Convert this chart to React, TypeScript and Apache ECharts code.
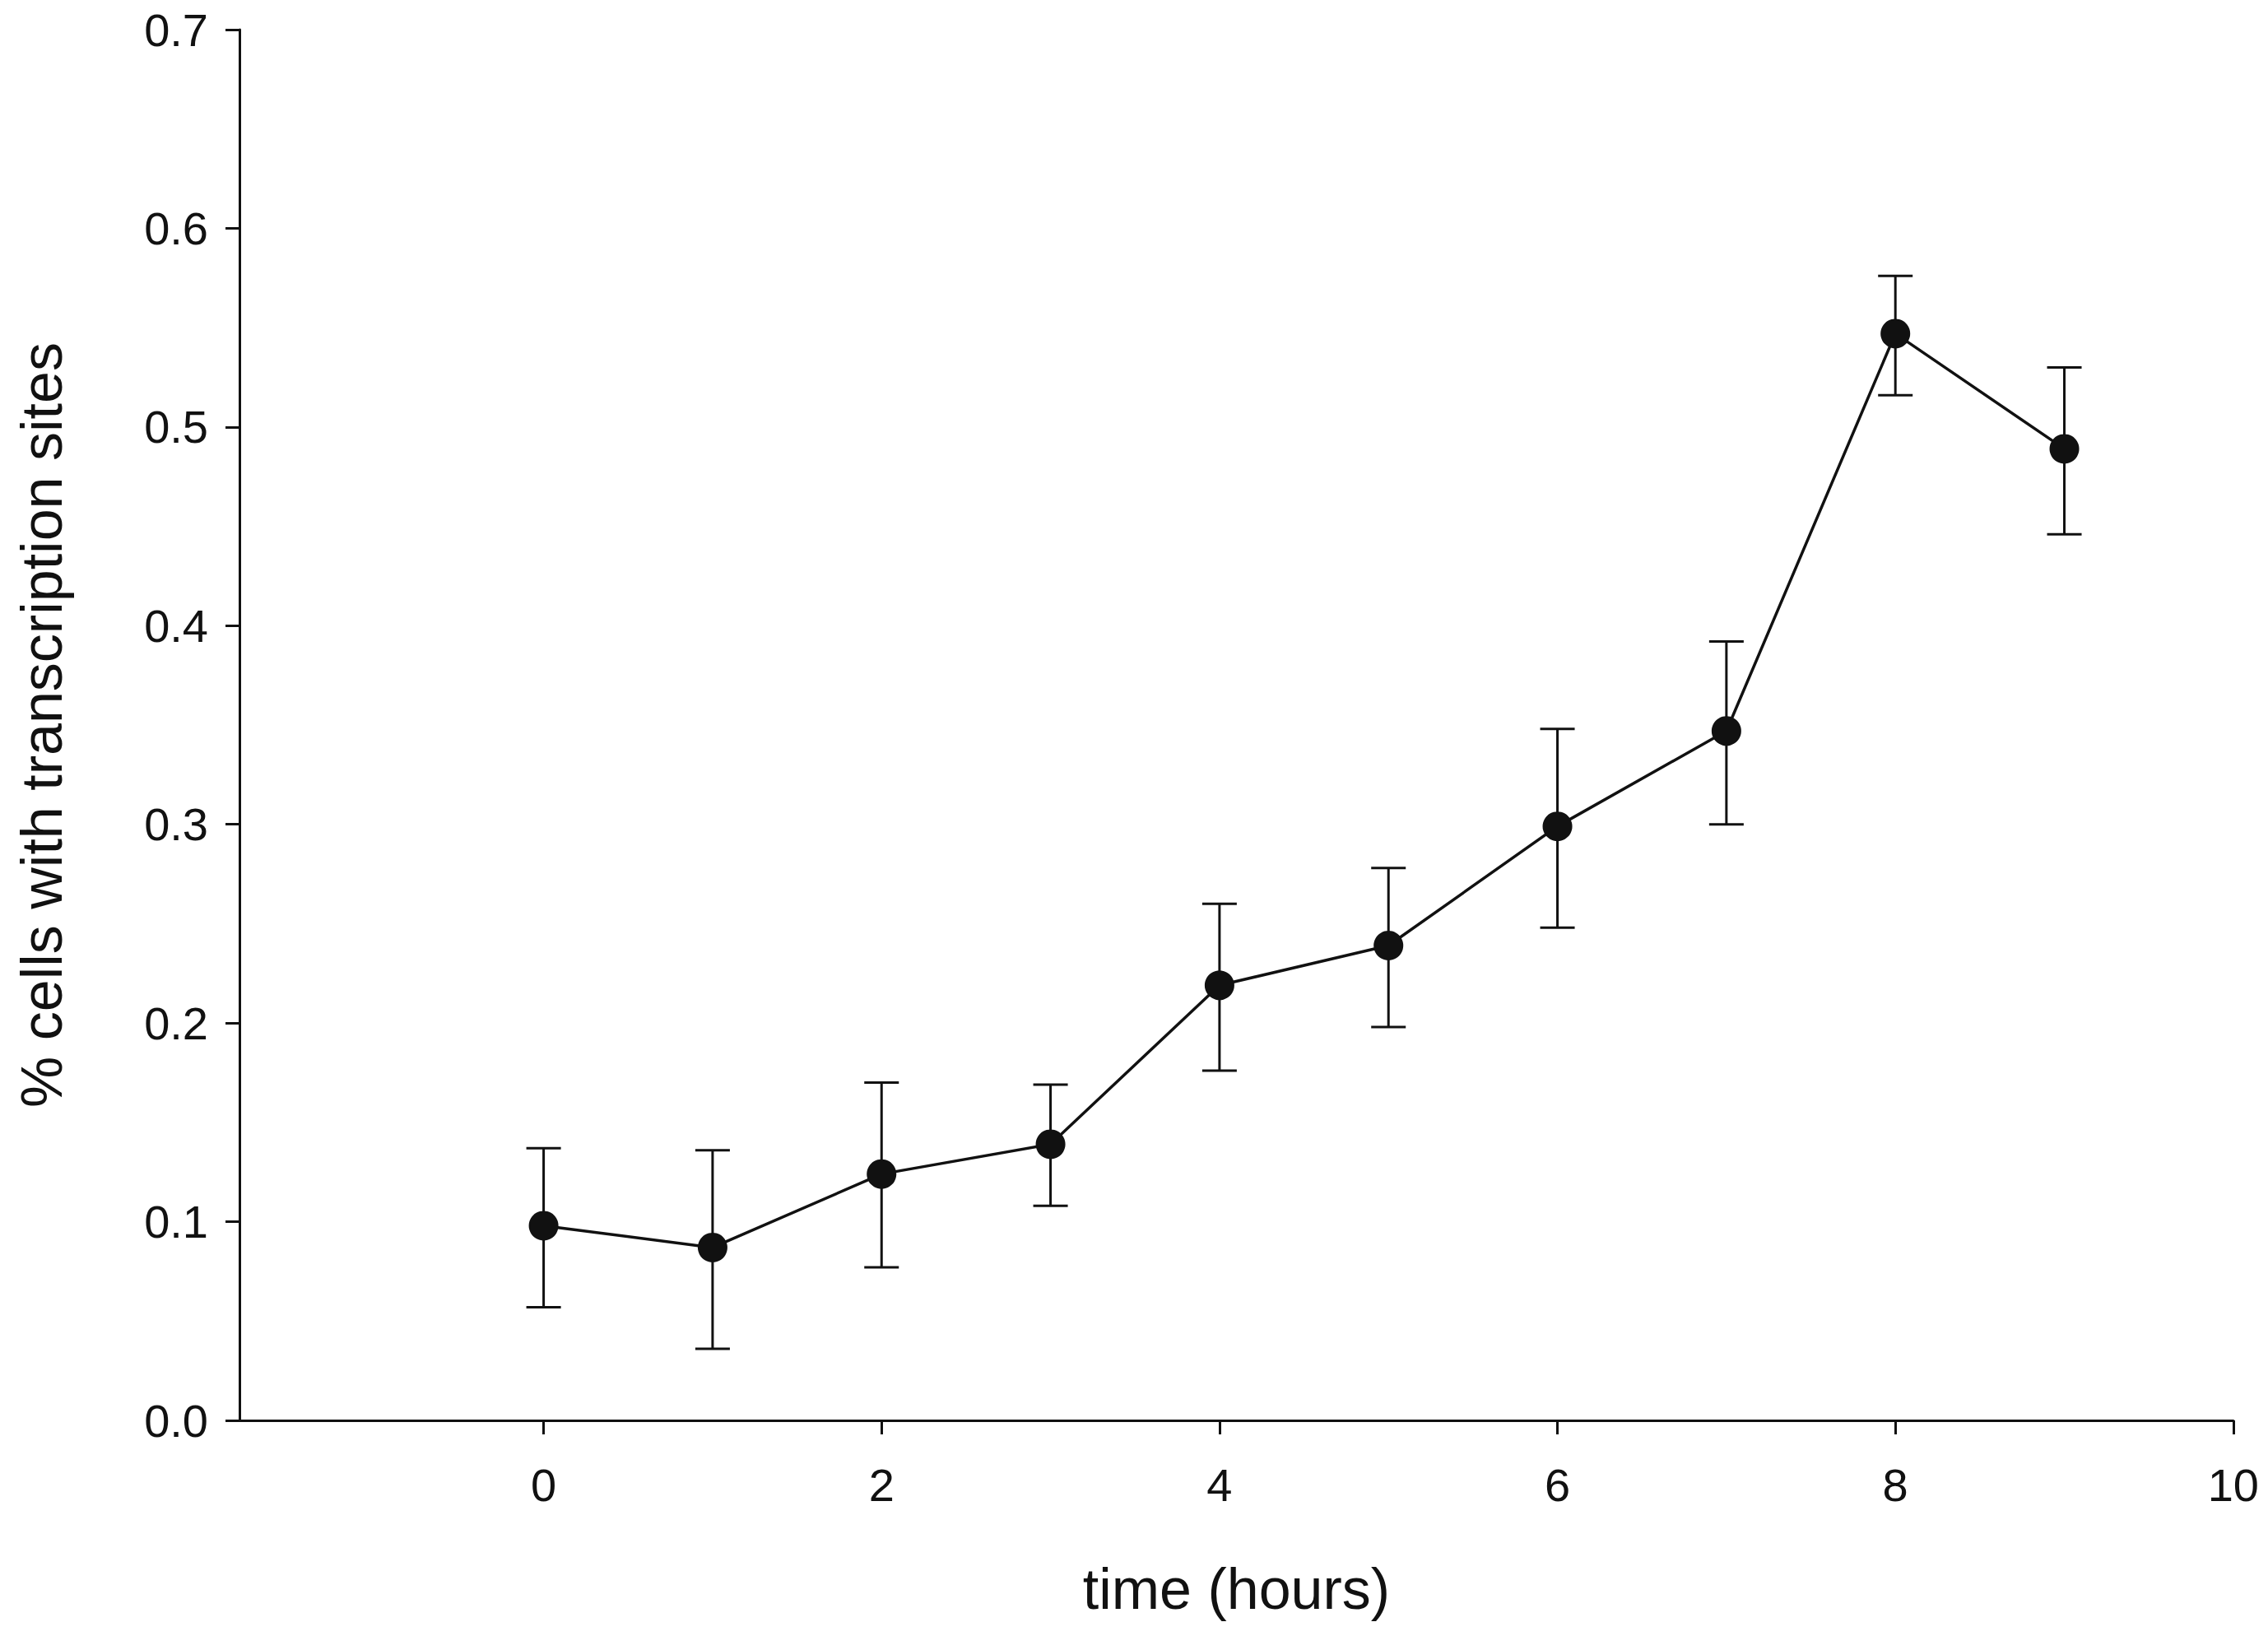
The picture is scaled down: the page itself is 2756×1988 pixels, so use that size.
import React, { useEffect, useRef } from 'react';
import * as echarts from 'echarts';

const hours = [0, 1, 2, 3, 4, 5, 6, 7, 8, 9];
const means = [0.098, 0.087, 0.124, 0.139, 0.219, 0.239, 0.299, 0.347, 0.547, 0.489];
const lows = [0.057, 0.036, 0.077, 0.108, 0.176, 0.198, 0.248, 0.300, 0.516, 0.446];
const highs = [0.137, 0.136, 0.170, 0.169, 0.260, 0.278, 0.348, 0.392, 0.576, 0.530];
const xTicks = [0, 2, 4, 6, 8, 10];

const font = 'Liberation Sans, Arial, sans-serif';

const App: React.FC = () => {
  const chartRef = useRef<HTMLDivElement>(null);

  useEffect(() => {
    if (!chartRef.current) return;
    const chart = echarts.init(chartRef.current, undefined, { renderer: 'svg' });

    const option = {
      animation: false,
      grid: { left: 279, right: 30, top: 22, bottom: 254, containLabel: false },
      xAxis: {
        type: 'value',
        min: -1.8,
        max: 10,
        name: 'time (hours)',
        nameLocation: 'middle',
        nameGap: 170,
        nameTextStyle: { fontSize: 70, color: '#111', fontFamily: font },
        splitLine: { show: false },
        axisLine: { onZero: false, lineStyle: { color: '#111', width: 3 } },
        axisTick: { customValues: xTicks, length: 17, lineStyle: { color: '#111', width: 3 } },
        axisLabel: { customValues: xTicks, fontSize: 56, color: '#111', fontFamily: font, margin: 50 },
      },
      yAxis: {
        type: 'value',
        min: 0,
        max: 0.7,
        interval: 0.1,
        name: '% cells with transcription sites',
        nameLocation: 'middle',
        nameGap: 205,
        nameTextStyle: { fontSize: 70, color: '#111', fontFamily: font },
        splitLine: { show: false },
        axisLine: { show: true, onZero: false, lineStyle: { color: '#111', width: 3 } },
        axisTick: { show: true, length: 17, lineStyle: { color: '#111', width: 3 } },
        axisLabel: {
          fontSize: 56,
          color: '#111',
          fontFamily: font,
          margin: 38,
          formatter: (v: number) => v.toFixed(1),
        },
      },
      series: [
        {
          type: 'custom',
          data: hours.map((h, i) => [h, lows[i], highs[i]]),
          renderItem: (_params: any, api: any) => {
            const x = api.value(0);
            const lo = api.coord([x, api.value(1)]);
            const hi = api.coord([x, api.value(2)]);
            const cap = 21;
            const style = { stroke: '#111', lineWidth: 3 };
            return {
              type: 'group',
              children: [
                { type: 'line', shape: { x1: lo[0], y1: lo[1], x2: hi[0], y2: hi[1] }, style },
                { type: 'line', shape: { x1: lo[0] - cap, y1: lo[1], x2: lo[0] + cap, y2: lo[1] }, style },
                { type: 'line', shape: { x1: hi[0] - cap, y1: hi[1], x2: hi[0] + cap, y2: hi[1] }, style },
              ],
            };
          },
          z: 1,
        },
        {
          type: 'line',
          data: hours.map((h, i) => [h, means[i]]),
          symbol: 'circle',
          symbolSize: 36,
          lineStyle: { color: '#111', width: 3.5 },
          itemStyle: { color: '#111' },
          z: 2,
        },
      ],
    };

    chart.setOption(option);
    const handleResize = () => chart.resize();
    window.addEventListener('resize', handleResize);
    return () => {
      window.removeEventListener('resize', handleResize);
      chart.dispose();
    };
  }, []);

  return <div ref={chartRef} style={{ width: '100%', height: '1972px' }} />;
};

export default App;
